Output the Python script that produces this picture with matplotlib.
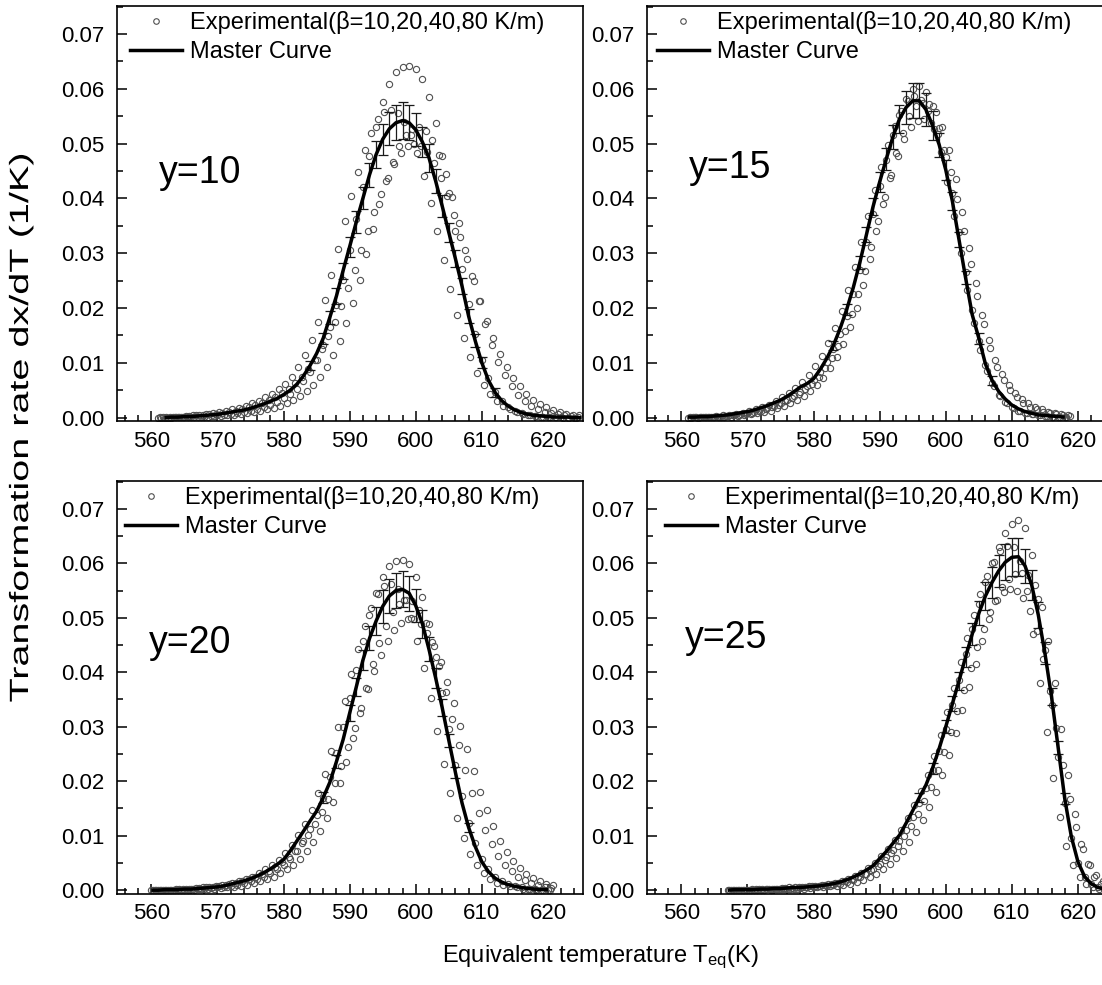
import numpy as np
import matplotlib
matplotlib.use('Agg')
import matplotlib.pyplot as plt
from matplotlib.ticker import MultipleLocator, FormatStrFormatter
from matplotlib.lines import Line2D
from matplotlib.patheffects import AbstractPathEffect
from matplotlib.transforms import Affine2D

plt.rcParams['font.family'] = ['Liberation Sans', 'DejaVu Sans']
plt.rcParams['mathtext.fontset'] = 'custom'
plt.rcParams['mathtext.rm'] = 'Liberation Sans'
plt.rcParams['mathtext.it'] = 'Liberation Sans:italic'

# ---------------- data ----------------
panel_labels = ['y=10', 'y=15', 'y=20', 'y=25']
legend_exp = 'Experimental(\u03b2=10,20,40,80 K/m)'
legend_master = 'Master Curve'
x_ticks = [560, 570, 580, 590, 600, 610, 620]
y_ticks = [0.00, 0.01, 0.02, 0.03, 0.04, 0.05, 0.06, 0.07]

# ---- panel y=10 ----
p1_master_start = 562
p1_master = [0.0000, 0.0001, 0.0001, 0.0002, 0.0002, 0.0003, 0.0004, 0.0005, 0.0006, 0.0008,
             0.0010, 0.0012, 0.0014, 0.0017, 0.0021, 0.0025, 0.0030, 0.0035, 0.0042, 0.0050,
             0.0061, 0.0076, 0.0095, 0.0117, 0.0145, 0.0183, 0.0222, 0.0268, 0.0312, 0.0357,
             0.0400, 0.0443, 0.0480, 0.0508, 0.0527, 0.0538, 0.0542, 0.0538, 0.0525, 0.0503,
             0.0474, 0.0432, 0.0386, 0.0338, 0.0290, 0.0240, 0.0185, 0.0140, 0.0100, 0.0068,
             0.0046, 0.0031, 0.0021, 0.0014, 0.0009, 0.0006, 0.0004, 0.0003, 0.0002, 0.0001,
             0.0001, 0.0001, 0.0000, 0.0000]
p1_exp_start = 561
p1_b10 = [0.0000, 0.0000, 0.0000, 0.0001, 0.0001, 0.0001, 0.0002, 0.0002, 0.0003, 0.0004, 0.0005, 0.0006, 0.0008, 0.0010, 0.0012,
          0.0015, 0.0019, 0.0023, 0.0028, 0.0035, 0.0043, 0.0053, 0.0066, 0.0083, 0.0105, 0.0132, 0.0165, 0.0205, 0.0252, 0.0305,
          0.0362, 0.0420, 0.0478, 0.0530, 0.0575, 0.0608, 0.0630, 0.0640, 0.0642, 0.0636, 0.0618, 0.0585, 0.0538, 0.0478, 0.0410,
          0.0340, 0.0272, 0.0208, 0.0152, 0.0106, 0.0072, 0.0047, 0.0030, 0.0019, 0.0012, 0.0008, 0.0005, 0.0003, 0.0002, 0.0001,
          0.0001, 0.0001, 0.0000, 0.0000]
p1_b20 = [0.0001, 0.0001, 0.0002, 0.0002, 0.0003, 0.0004, 0.0005, 0.0006, 0.0008, 0.0010, 0.0012, 0.0015, 0.0018, 0.0022, 0.0026,
          0.0031, 0.0037, 0.0044, 0.0052, 0.0062, 0.0075, 0.0092, 0.0115, 0.0142, 0.0175, 0.0215, 0.0260, 0.0308, 0.0358, 0.0405,
          0.0448, 0.0488, 0.0520, 0.0545, 0.0558, 0.0562, 0.0556, 0.0540, 0.0515, 0.0482, 0.0440, 0.0392, 0.0340, 0.0287, 0.0235,
          0.0187, 0.0145, 0.0110, 0.0082, 0.0060, 0.0043, 0.0031, 0.0022, 0.0015, 0.0010, 0.0007, 0.0005, 0.0003, 0.0002, 0.0001,
          0.0001, 0.0000, 0.0000, 0.0000]
p1_b40 = [0.0000, 0.0000, 0.0001, 0.0001, 0.0001, 0.0001, 0.0002, 0.0002, 0.0003, 0.0003, 0.0004, 0.0005, 0.0006, 0.0008, 0.0010,
          0.0012, 0.0015, 0.0018, 0.0022, 0.0027, 0.0033, 0.0040, 0.0049, 0.0060, 0.0074, 0.0092, 0.0114, 0.0140, 0.0172, 0.0210,
          0.0252, 0.0298, 0.0345, 0.0390, 0.0432, 0.0467, 0.0495, 0.0515, 0.0527, 0.0530, 0.0523, 0.0506, 0.0480, 0.0445, 0.0403,
          0.0356, 0.0306, 0.0258, 0.0212, 0.0170, 0.0133, 0.0102, 0.0077, 0.0057, 0.0042, 0.0031, 0.0022, 0.0016, 0.0011, 0.0008,
          0.0006, 0.0004, 0.0003, 0.0002]
p1_b80 = [0.0001, 0.0001, 0.0002, 0.0002, 0.0003, 0.0004, 0.0005, 0.0006, 0.0007, 0.0009, 0.0011, 0.0013, 0.0016, 0.0019, 0.0023,
          0.0027, 0.0032, 0.0038, 0.0045, 0.0053, 0.0063, 0.0075, 0.0089, 0.0106, 0.0126, 0.0149, 0.0175, 0.0204, 0.0236, 0.0270,
          0.0305, 0.0340, 0.0375, 0.0408, 0.0437, 0.0462, 0.0482, 0.0495, 0.0500, 0.0496, 0.0484, 0.0464, 0.0437, 0.0405, 0.0369,
          0.0330, 0.0290, 0.0250, 0.0212, 0.0177, 0.0145, 0.0117, 0.0093, 0.0073, 0.0057, 0.0044, 0.0033, 0.0025, 0.0019, 0.0014,
          0.0010, 0.0007, 0.0005, 0.0004]
p1_err_T = [584, 586, 587, 588, 589, 590, 591, 592, 593, 594, 595, 596, 597, 598, 599, 600, 601, 602, 603, 604, 605, 606, 607, 608, 609, 610, 612]
p1_err = [0.0008, 0.0010, 0.0012, 0.0015, 0.0015, 0.0018, 0.0020, 0.0020, 0.0022, 0.0025, 0.0028, 0.0030, 0.0032, 0.0033, 0.0032,
          0.0030, 0.0028, 0.0025, 0.0022, 0.0020, 0.0018, 0.0016, 0.0015, 0.0013, 0.0012, 0.0010, 0.0008]

# ---- panel y=15 ----
p2_master_start = 561
p2_master = [0.0001, 0.0001, 0.0002, 0.0002, 0.0003, 0.0004, 0.0005, 0.0007, 0.0009, 0.0011,
             0.0014, 0.0018, 0.0022, 0.0027, 0.0032, 0.0039, 0.0047, 0.0056, 0.0062, 0.0071,
             0.0088, 0.0108, 0.0132, 0.0162, 0.0197, 0.0237, 0.0283, 0.0334, 0.0385, 0.0430,
             0.0472, 0.0512, 0.0545, 0.0566, 0.0578, 0.0578, 0.0562, 0.0533, 0.0498, 0.0452,
             0.0395, 0.0325, 0.0255, 0.0188, 0.0145, 0.0098, 0.0068, 0.0048, 0.0034, 0.0023,
             0.0016, 0.0011, 0.0008, 0.0005, 0.0004, 0.0003, 0.0002, 0.0001]
p2_exp_start = 561
p2_b10 = [0.0000, 0.0001, 0.0001, 0.0001, 0.0002, 0.0002, 0.0003, 0.0004, 0.0006, 0.0008, 0.0010, 0.0013, 0.0017, 0.0021, 0.0026,
          0.0032, 0.0039, 0.0047, 0.0057, 0.0068, 0.0083, 0.0102, 0.0125, 0.0153, 0.0186, 0.0225, 0.0270, 0.0320, 0.0372, 0.0422,
          0.0470, 0.0515, 0.0553, 0.0582, 0.0600, 0.0605, 0.0594, 0.0568, 0.0528, 0.0475, 0.0410, 0.0338, 0.0265, 0.0196, 0.0140,
          0.0096, 0.0064, 0.0042, 0.0028, 0.0019, 0.0013, 0.0009, 0.0006, 0.0004, 0.0003, 0.0002, 0.0001, 0.0001]
p2_b20 = [0.0001, 0.0001, 0.0002, 0.0002, 0.0003, 0.0004, 0.0005, 0.0007, 0.0009, 0.0012, 0.0015, 0.0019, 0.0024, 0.0030, 0.0037,
          0.0045, 0.0054, 0.0065, 0.0078, 0.0094, 0.0113, 0.0136, 0.0163, 0.0195, 0.0232, 0.0274, 0.0320, 0.0368, 0.0415, 0.0458,
          0.0498, 0.0532, 0.0560, 0.0578, 0.0586, 0.0580, 0.0560, 0.0527, 0.0484, 0.0430, 0.0368, 0.0300, 0.0232, 0.0172, 0.0124,
          0.0086, 0.0058, 0.0039, 0.0026, 0.0018, 0.0012, 0.0008, 0.0006, 0.0004, 0.0003, 0.0002, 0.0001, 0.0001]
p2_b40 = [0.0000, 0.0000, 0.0001, 0.0001, 0.0001, 0.0002, 0.0002, 0.0003, 0.0004, 0.0006, 0.0008, 0.0010, 0.0013, 0.0017, 0.0022,
          0.0027, 0.0033, 0.0040, 0.0049, 0.0060, 0.0073, 0.0090, 0.0110, 0.0135, 0.0165, 0.0200, 0.0242, 0.0290, 0.0340, 0.0390,
          0.0438, 0.0482, 0.0520, 0.0550, 0.0568, 0.0574, 0.0572, 0.0558, 0.0530, 0.0488, 0.0435, 0.0375, 0.0310, 0.0245, 0.0188,
          0.0142, 0.0106, 0.0080, 0.0060, 0.0045, 0.0034, 0.0026, 0.0020, 0.0015, 0.0011, 0.0008, 0.0006, 0.0004]
p2_b80 = [0.0001, 0.0001, 0.0001, 0.0002, 0.0002, 0.0003, 0.0004, 0.0005, 0.0007, 0.0009, 0.0012, 0.0015, 0.0019, 0.0024, 0.0030,
          0.0036, 0.0043, 0.0052, 0.0062, 0.0075, 0.0090, 0.0109, 0.0131, 0.0158, 0.0190, 0.0226, 0.0267, 0.0312, 0.0358, 0.0402,
          0.0442, 0.0478, 0.0508, 0.0530, 0.0542, 0.0545, 0.0538, 0.0518, 0.0488, 0.0448, 0.0398, 0.0340, 0.0280, 0.0222, 0.0170,
          0.0127, 0.0093, 0.0068, 0.0050, 0.0037, 0.0027, 0.0020, 0.0015, 0.0011, 0.0008, 0.0006, 0.0004, 0.0003]
p2_err_T = [583, 585, 587, 588, 589, 590, 591, 592, 593, 594, 595, 596, 597, 598, 599, 600, 601, 602, 603, 605, 607]
p2_err = [0.0008, 0.0010, 0.0012, 0.0014, 0.0016, 0.0018, 0.0020, 0.0022, 0.0026, 0.0030, 0.0032, 0.0032, 0.0030, 0.0026,
          0.0022, 0.0018, 0.0016, 0.0014, 0.0012, 0.0010, 0.0008]

# ---- panel y=20 ----
p3_master_start = 560
p3_master = [0.0000, 0.0000, 0.0001, 0.0001, 0.0001, 0.0002, 0.0002, 0.0003, 0.0004, 0.0005,
             0.0006, 0.0008, 0.0011, 0.0014, 0.0017, 0.0021, 0.0026, 0.0032, 0.0039, 0.0047,
             0.0056, 0.0072, 0.0090, 0.0108, 0.0127, 0.0145, 0.0170, 0.0198, 0.0236, 0.0276,
             0.0325, 0.0373, 0.0422, 0.0462, 0.0494, 0.0521, 0.0540, 0.0550, 0.0552, 0.0545,
             0.0522, 0.0489, 0.0442, 0.0390, 0.0335, 0.0275, 0.0216, 0.0160, 0.0115, 0.0080,
             0.0052, 0.0034, 0.0022, 0.0015, 0.0010, 0.0007, 0.0005, 0.0003, 0.0002, 0.0001,
             0.0001]
p3_exp_start = 560
p3_b10 = [0.0000, 0.0000, 0.0000, 0.0001, 0.0001, 0.0001, 0.0002, 0.0002, 0.0003, 0.0004, 0.0005, 0.0006, 0.0008, 0.0010, 0.0013,
          0.0016, 0.0020, 0.0025, 0.0031, 0.0038, 0.0047, 0.0058, 0.0072, 0.0090, 0.0112, 0.0138, 0.0170, 0.0208, 0.0252, 0.0300,
          0.0352, 0.0405, 0.0458, 0.0505, 0.0545, 0.0575, 0.0595, 0.0604, 0.0606, 0.0598, 0.0575, 0.0538, 0.0488, 0.0428, 0.0362,
          0.0295, 0.0230, 0.0172, 0.0124, 0.0086, 0.0058, 0.0038, 0.0025, 0.0016, 0.0011, 0.0007, 0.0005, 0.0003, 0.0002, 0.0001,
          0.0001]
p3_b20 = [0.0000, 0.0001, 0.0001, 0.0001, 0.0002, 0.0002, 0.0003, 0.0004, 0.0005, 0.0006, 0.0008, 0.0010, 0.0013, 0.0016, 0.0020,
          0.0025, 0.0031, 0.0038, 0.0046, 0.0056, 0.0068, 0.0083, 0.0101, 0.0122, 0.0148, 0.0178, 0.0214, 0.0255, 0.0300, 0.0348,
          0.0396, 0.0442, 0.0484, 0.0518, 0.0544, 0.0558, 0.0562, 0.0553, 0.0532, 0.0500, 0.0458, 0.0408, 0.0352, 0.0292, 0.0232,
          0.0178, 0.0132, 0.0095, 0.0067, 0.0046, 0.0031, 0.0021, 0.0014, 0.0010, 0.0007, 0.0005, 0.0003, 0.0002, 0.0001, 0.0001,
          0.0000]
p3_b40 = [0.0000, 0.0000, 0.0000, 0.0000, 0.0001, 0.0001, 0.0001, 0.0002, 0.0002, 0.0003, 0.0004, 0.0005, 0.0006, 0.0008, 0.0010,
          0.0013, 0.0016, 0.0020, 0.0025, 0.0031, 0.0038, 0.0047, 0.0058, 0.0072, 0.0088, 0.0108, 0.0132, 0.0162, 0.0196, 0.0236,
          0.0280, 0.0326, 0.0372, 0.0415, 0.0453, 0.0485, 0.0510, 0.0526, 0.0533, 0.0530, 0.0515, 0.0490, 0.0455, 0.0412, 0.0364,
          0.0315, 0.0266, 0.0220, 0.0178, 0.0142, 0.0110, 0.0084, 0.0063, 0.0047, 0.0035, 0.0025, 0.0018, 0.0013, 0.0009, 0.0006,
          0.0004]
p3_b80 = [0.0001, 0.0001, 0.0001, 0.0002, 0.0002, 0.0003, 0.0004, 0.0005, 0.0006, 0.0007, 0.0009, 0.0011, 0.0014, 0.0017, 0.0021,
          0.0025, 0.0030, 0.0036, 0.0043, 0.0051, 0.0061, 0.0072, 0.0086, 0.0102, 0.0121, 0.0143, 0.0168, 0.0196, 0.0228, 0.0262,
          0.0298, 0.0334, 0.0370, 0.0403, 0.0432, 0.0457, 0.0477, 0.0491, 0.0498, 0.0497, 0.0488, 0.0472, 0.0448, 0.0418, 0.0383,
          0.0344, 0.0302, 0.0260, 0.0219, 0.0181, 0.0147, 0.0117, 0.0091, 0.0070, 0.0053, 0.0040, 0.0030, 0.0022, 0.0016, 0.0012,
          0.0009]
p3_err_T = [586, 588, 590, 591, 592, 593, 594, 595, 596, 597, 598, 599, 600, 601, 602, 603, 604, 605, 606, 608]
p3_err = [0.0010, 0.0012, 0.0014, 0.0016, 0.0018, 0.0022, 0.0026, 0.0030, 0.0032, 0.0033, 0.0033, 0.0032, 0.0030, 0.0026,
          0.0022, 0.0018, 0.0015, 0.0012, 0.0010, 0.0008]

# ---- panel y=25 ----
p4_master_start = 567
p4_master = [0.0000, 0.0001, 0.0001, 0.0001, 0.0001, 0.0002, 0.0002, 0.0003, 0.0003, 0.0004,
             0.0005, 0.0005, 0.0006, 0.0007, 0.0008, 0.0010, 0.0012, 0.0015, 0.0019, 0.0024,
             0.0030, 0.0037, 0.0045, 0.0058, 0.0071, 0.0086, 0.0101, 0.0123, 0.0146, 0.0170,
             0.0193, 0.0224, 0.0260, 0.0300, 0.0342, 0.0384, 0.0428, 0.0470, 0.0508, 0.0540,
             0.0565, 0.0586, 0.0602, 0.0611, 0.0612, 0.0595, 0.0560, 0.0505, 0.0435, 0.0355,
             0.0262, 0.0168, 0.0098, 0.0052, 0.0025, 0.0012, 0.0005, 0.0002, 0.0001]
p4_exp_start = 567
p4_b10 = [0.0000, 0.0000, 0.0001, 0.0001, 0.0001, 0.0001, 0.0002, 0.0002, 0.0002, 0.0003, 0.0003, 0.0004, 0.0005, 0.0006, 0.0007,
          0.0008, 0.0010, 0.0012, 0.0015, 0.0019, 0.0024, 0.0030, 0.0038, 0.0048, 0.0060, 0.0074, 0.0090, 0.0110, 0.0134, 0.0160,
          0.0188, 0.0220, 0.0256, 0.0296, 0.0340, 0.0386, 0.0433, 0.0480, 0.0525, 0.0565, 0.0600, 0.0630, 0.0655, 0.0672, 0.0680,
          0.0665, 0.0615, 0.0535, 0.0440, 0.0340, 0.0245, 0.0160, 0.0095, 0.0050, 0.0024, 0.0011, 0.0005, 0.0002, 0.0001]
p4_b20 = [0.0001, 0.0001, 0.0001, 0.0001, 0.0002, 0.0002, 0.0003, 0.0003, 0.0004, 0.0005, 0.0005, 0.0006, 0.0007, 0.0008, 0.0010,
          0.0012, 0.0014, 0.0017, 0.0021, 0.0026, 0.0032, 0.0040, 0.0050, 0.0062, 0.0076, 0.0092, 0.0110, 0.0132, 0.0156, 0.0182,
          0.0212, 0.0246, 0.0285, 0.0327, 0.0372, 0.0418, 0.0463, 0.0505, 0.0543, 0.0576, 0.0603, 0.0622, 0.0632, 0.0630, 0.0605,
          0.0550, 0.0470, 0.0380, 0.0290, 0.0205, 0.0135, 0.0082, 0.0046, 0.0024, 0.0012, 0.0006, 0.0003, 0.0001, 0.0000]
p4_b40 = [0.0000, 0.0000, 0.0000, 0.0001, 0.0001, 0.0001, 0.0001, 0.0002, 0.0002, 0.0002, 0.0003, 0.0003, 0.0004, 0.0005, 0.0006,
          0.0007, 0.0008, 0.0010, 0.0012, 0.0015, 0.0019, 0.0024, 0.0030, 0.0038, 0.0048, 0.0059, 0.0072, 0.0088, 0.0106, 0.0128,
          0.0152, 0.0180, 0.0212, 0.0248, 0.0288, 0.0330, 0.0373, 0.0416, 0.0458, 0.0497, 0.0530, 0.0556, 0.0572, 0.0580, 0.0582,
          0.0578, 0.0560, 0.0520, 0.0458, 0.0380, 0.0295, 0.0212, 0.0140, 0.0085, 0.0048, 0.0025, 0.0012, 0.0006, 0.0003]
p4_b80 = [0.0001, 0.0001, 0.0001, 0.0002, 0.0002, 0.0002, 0.0003, 0.0003, 0.0004, 0.0004, 0.0005, 0.0006, 0.0007, 0.0008, 0.0009,
          0.0011, 0.0013, 0.0016, 0.0020, 0.0024, 0.0030, 0.0037, 0.0045, 0.0056, 0.0068, 0.0082, 0.0099, 0.0118, 0.0140, 0.0164,
          0.0190, 0.0220, 0.0253, 0.0290, 0.0328, 0.0368, 0.0408, 0.0446, 0.0480, 0.0510, 0.0532, 0.0547, 0.0553, 0.0550, 0.0537,
          0.0512, 0.0475, 0.0425, 0.0365, 0.0298, 0.0230, 0.0168, 0.0116, 0.0076, 0.0047, 0.0028, 0.0016, 0.0009, 0.0005]
p4_err_T = [596, 598, 600, 601, 602, 603, 604, 605, 606, 607, 608, 609, 610, 611, 612, 613, 614, 615, 616, 617, 618]
p4_err = [0.0008, 0.0010, 0.0012, 0.0014, 0.0016, 0.0018, 0.0020, 0.0022, 0.0025, 0.0028, 0.0030, 0.0033, 0.0035, 0.0035,
          0.0032, 0.0028, 0.0024, 0.0020, 0.0016, 0.0012, 0.0010]

panels = [
    (p1_master_start, p1_master, p1_exp_start, [p1_b10, p1_b20, p1_b40, p1_b80], p1_err_T, p1_err),
    (p2_master_start, p2_master, p2_exp_start, [p2_b10, p2_b20, p2_b40, p2_b80], p2_err_T, p2_err),
    (p3_master_start, p3_master, p3_exp_start, [p3_b10, p3_b20, p3_b40, p3_b80], p3_err_T, p3_err),
    (p4_master_start, p4_master, p4_exp_start, [p4_b10, p4_b20, p4_b40, p4_b80], p4_err_T, p4_err),
]


class Stretch(AbstractPathEffect):
    """Stretch rendered text along its reading direction (text stays real text)."""

    def __init__(self, sx=1.0, sy=1.0):
        super().__init__()
        self.sx, self.sy = sx, sy

    def draw_path(self, renderer, gc, tpath, affine, rgbFace=None):
        ext = tpath.get_extents()
        cx = 0.5 * (ext.x0 + ext.x1)
        cy = 0.5 * (ext.y0 + ext.y1)
        t = Affine2D().translate(-cx, -cy).scale(self.sx, self.sy).translate(cx, cy)
        renderer.draw_path(gc, tpath, t + affine, rgbFace)


# ---------------- layout (pixels) ----------------
W, H = 1102, 985
fig = plt.figure(figsize=(W / 100, H / 100), dpi=100)
boxes = [(117, 6, 466, 415.5), (647, 6, 466, 415.5), (117, 481, 466, 413), (647, 481, 466, 413)]
label_pos = [(0.090, 0.574), (0.090, 0.586), (0.068, 0.584), (0.082, 0.596)]
legend_dx = [13, 10, 8, 18]
x_jitter = [0.0, 0.25, 0.5, 0.75]
gray = '#505050'

for i, (ms, mv, es, series, eT, eS) in enumerate(panels):
    l, t, w, h = boxes[i]
    ax = fig.add_axes([l / W, 1 - (t + h) / H, w / W, h / H])
    ax.set_xlim(554.8, 625.3)
    ax.set_ylim(-0.0007, 0.0751)

    for k, s in enumerate(series):
        Ts = es + np.arange(len(s)) + x_jitter[k]
        ax.plot(Ts, s, linestyle='none', marker='o', ms=4.5, mfc='none',
                mec=gray, mew=0.8, zorder=2)

    Tm = ms + np.arange(len(mv))
    mv_arr = np.array(mv)
    eY = mv_arr[np.array(eT) - ms]
    ax.errorbar(eT, eY, yerr=eS, fmt='none', ecolor='#1a1a1a', elinewidth=0.9,
                capsize=3.5, capthick=0.9, zorder=3)
    ax.plot(Tm, mv, color='black', lw=2.5, zorder=4, solid_capstyle='butt')

    ax.set_xticks(x_ticks)
    ax.xaxis.set_minor_locator(MultipleLocator(2))
    ax.set_yticks(y_ticks)
    ax.yaxis.set_minor_locator(MultipleLocator(0.005))
    ax.yaxis.set_major_formatter(FormatStrFormatter('%.2f'))
    ax.tick_params(which='both', direction='in', top=False, right=False,
                   labelsize=16, width=1.1)
    ax.tick_params(which='major', length=7)
    ax.tick_params(which='minor', length=4)
    ax.tick_params(axis='x', which='major', pad=6.5)
    ax.tick_params(axis='y', which='major', pad=9)
    for sp in ax.spines.values():
        sp.set_linewidth(1.2)

    h_exp = Line2D([], [], linestyle='none', marker='o', ms=4, mfc='none', mec=gray, mew=0.8)
    h_mc = Line2D([], [], color='black', lw=2.5)
    ax.legend([h_exp, h_mc], [legend_exp, legend_master], loc='upper left',
              bbox_to_anchor=(legend_dx[i] / w, 1 - 5 / h),
              frameon=False, fontsize=17, borderaxespad=0.0, borderpad=0.0,
              handlelength=2.2, handletextpad=0.34, labelspacing=0.3)

    lx, ly = label_pos[i]
    ax.text(lx, ly, panel_labels[i], transform=ax.transAxes, fontsize=27,
            ha='left', va='baseline')

ylab = fig.text(21 / W, 1 - 427.5 / H, 'Transformation rate dx/dT (1/K)', rotation=90,
                ha='center', va='center', fontsize=19)
ylab.set_path_effects([Stretch(1.5, 1.0)])
fig.text(600 / W, 1 - 962 / H, r'Equivalent temperature T$_{\mathrm{eq}}$(K)',
         ha='center', va='baseline', fontsize=17)

fig.savefig('out.png', dpi=100)
